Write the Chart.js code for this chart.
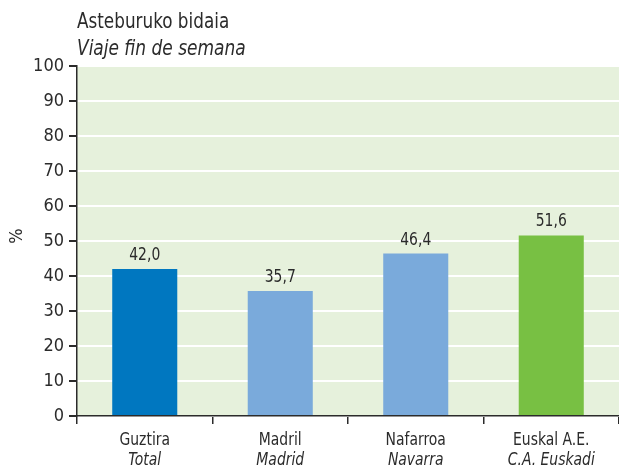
<!DOCTYPE html>
<html>
<head>
<meta charset="utf-8">
<script src="https://cdn.jsdelivr.net/npm/chart.js@4/dist/chart.umd.min.js"></script>
<style>
  html, body { margin: 0; padding: 0; background: #fff; }
  #wrap { width: 619px; height: 468px; }
</style>
</head>
<body>
<div id="wrap"><canvas id="chart" width="619" height="468"></canvas></div>
<script>
const categories = ['Guztira', 'Madril', 'Nafarroa', 'Euskal A.E.'];
const categoriesEs = ['Total', 'Madrid', 'Navarra', 'C.A. Euskadi'];
const values = [42.0, 35.7, 46.4, 51.6];
const barColors = ['#0077c0', '#7aaadb', '#7aaadb', '#78c043'];
const yTicks = [0, 10, 20, 30, 40, 50, 60, 70, 80, 90, 100];

const FONT = '"DejaVu Sans Condensed", "Liberation Sans Narrow", "Roboto", sans-serif';
const TEXT = '#2b2b2b';

// draw text squeezed horizontally, the original uses a narrow face
function narrowText(ctx, text, x, y, sx) {
    ctx.save();
    ctx.translate(x, y);
    ctx.scale(sx, 1);
    ctx.fillText(text, 0, 0);
    ctx.restore();
}

// background, titles, value labels, two-line category labels
const decor = {
    id: 'decor',
    beforeDraw(chart) {
        const { ctx, chartArea: a } = chart;
        ctx.save();
        ctx.fillStyle = '#e6f1dc';
        ctx.fillRect(a.left, a.top, a.right - a.left, a.bottom - a.top);
        ctx.restore();
    },
    afterDraw(chart) {
        const { ctx } = chart;
        const x = chart.scales.x;
        ctx.save();
        ctx.fillStyle = TEXT;
        ctx.textBaseline = 'alphabetic';

        // titles
        ctx.textAlign = 'left';
        ctx.font = '22px ' + FONT;
        narrowText(ctx, 'Asteburuko bidaia', 77, 28, 0.85);
        ctx.font = 'italic 21px ' + FONT;
        narrowText(ctx, 'Viaje fin de semana', 77, 55, 0.9);

        // % axis label
        ctx.save();
        ctx.translate(22, 236);
        ctx.rotate(-Math.PI / 2);
        ctx.textAlign = 'center';
        ctx.font = '18px ' + FONT;
        ctx.fillText('%', 0, 0);
        ctx.restore();

        // value labels
        const meta = chart.getDatasetMeta(0);
        ctx.textAlign = 'center';
        ctx.font = '18px ' + FONT;
        meta.data.forEach((bar, i) => {
            narrowText(ctx, values[i].toFixed(1).replace('.', ','), bar.x, bar.y - 9, 0.86);
        });

        // category labels
        categories.forEach((c, i) => {
            const px = x.getPixelForValue(i);
            ctx.font = '18px ' + FONT;
            narrowText(ctx, c, px, 445, 0.86);
            ctx.font = 'italic 18px ' + FONT;
            narrowText(ctx, categoriesEs[i], px, 465, 0.86);
        });
        ctx.restore();
    }
};

new Chart(document.getElementById('chart'), {
    type: 'bar',
    data: {
        labels: categories,
        datasets: [{
            data: values,
            backgroundColor: barColors,
            barPercentage: 0.48,
            categoryPercentage: 1
        }]
    },
    options: {
        responsive: false,
        animation: false,
        devicePixelRatio: 1,
        layout: { padding: { top: 66, left: 0, right: 0, bottom: 0 } },
        plugins: {
            legend: { display: false },
            tooltip: { enabled: false }
        },
        scales: {
            x: {
                afterFit: s => { s.height = 52; },
                grid: {
                    offset: true,
                    drawOnChartArea: false,
                    tickColor: '#2b2b2b',
                    tickLength: 8,
                    lineWidth: 1.5
                },
                border: { color: '#2b2b2b', width: 1.5 },
                ticks: { display: false }
            },
            y: {
                min: 0,
                max: 100,
                afterFit: s => { s.width = 77; },
                afterBuildTicks: s => { s.ticks = yTicks.map(v => ({ value: v })); },
                grid: {
                    color: '#ffffff',
                    lineWidth: 2,
                    tickColor: '#2b2b2b',
                    tickLength: 8
                },
                border: { color: '#2b2b2b', width: 1.5 },
                ticks: {
                    color: TEXT,
                    padding: 5,
                    font: { family: FONT, size: 18 }
                }
            }
        }
    },
    plugins: [decor]
});
</script>
</body>
</html>
